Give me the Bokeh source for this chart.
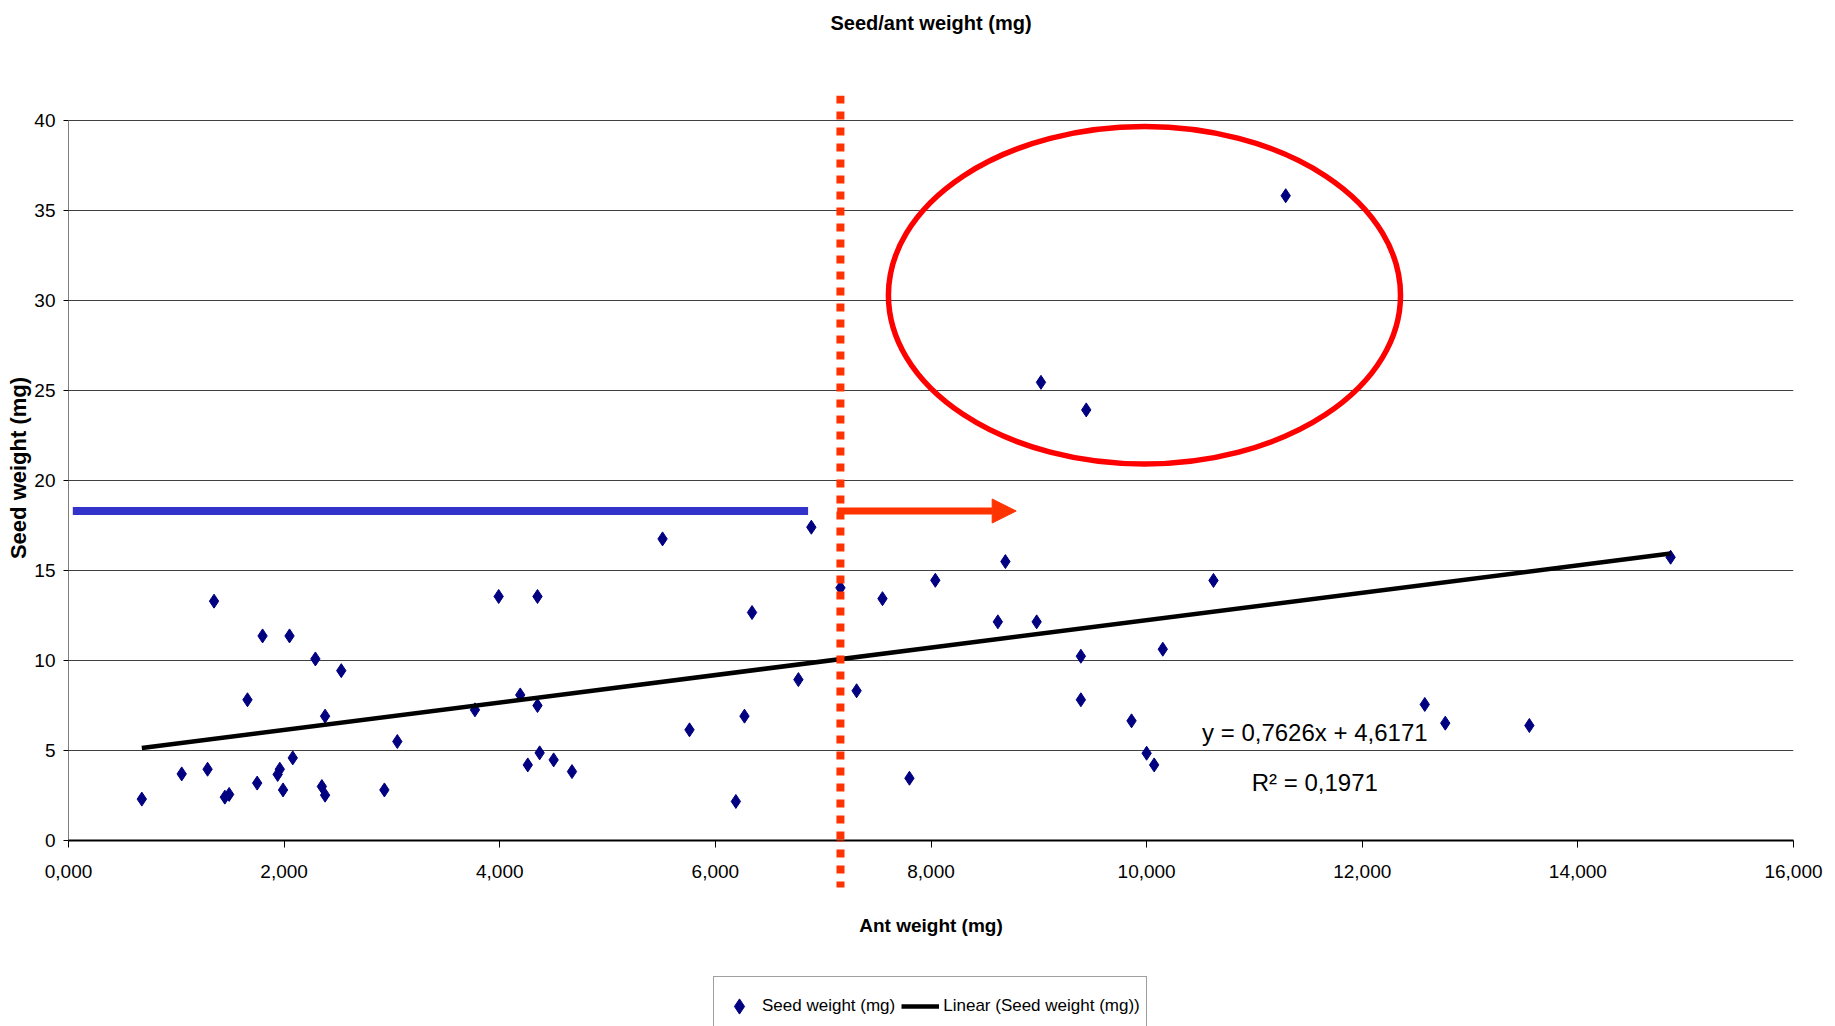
from bokeh.plotting import figure
from bokeh.layouts import column
from bokeh.models import (Range1d, FixedTicker, Legend, LegendItem, Arrow,
                          NormalHead, Span, LinearAxis)
from bokeh.core.properties import value
from bokeh.embed import file_html
from bokeh.resources import INLINE

# ---------------- data ----------------
ant_weight = [0.68, 1.05, 1.29, 1.35, 1.45, 1.49, 1.66, 1.75, 1.80, 1.94,
              1.96, 1.99, 2.05, 2.08, 2.29, 2.35, 2.38, 2.38, 2.53, 2.93,
              3.05, 3.77, 3.99, 4.19, 4.26, 4.35, 4.35, 4.37, 4.50, 4.67,
              5.51, 5.76, 6.19, 6.27, 6.34, 6.77, 6.89, 7.16, 7.31, 7.55,
              7.80, 8.04, 8.62, 8.69, 8.98, 9.02, 9.39, 9.39, 9.44, 9.86,
              10.00, 10.07, 10.15, 10.62, 11.29, 12.58, 12.77, 13.55, 14.86]
seed_weight = [2.30, 3.70, 3.96, 13.30, 2.41, 2.56, 7.82, 3.19, 11.37, 3.67,
               3.96, 2.81, 11.37, 4.59, 10.09, 3.00, 6.91, 2.52, 9.44, 2.81,
               5.50, 7.26, 13.56, 8.09, 4.20, 13.56, 7.50, 4.87, 4.48, 3.83,
               16.76, 6.15, 2.17, 6.91, 12.67, 8.94, 17.41, 14.04, 8.32, 13.44,
               3.46, 14.46, 12.15, 15.50, 12.15, 25.46, 10.24, 7.82, 23.93, 6.65,
               4.85, 4.20, 10.63, 14.45, 35.83, 7.56, 6.52, 6.39, 15.74]

x_ticks = [0, 2, 4, 6, 8, 10, 12, 14, 16]
x_tick_labels = ["0,000", "2,000", "4,000", "6,000", "8,000",
                 "10,000", "12,000", "14,000", "16,000"]
y_ticks = [0, 5, 10, 15, 20, 25, 30, 35, 40]

trend_slope = 0.7626
trend_intercept = 4.6171
eq_text = "y = 0,7626x + 4,6171"
r2_text = "R\u00b2 = 0,1971"

chart_title = "Seed/ant weight (mg)"
x_title = "Ant weight (mg)"
y_title = "Seed weight (mg)"
series_label = "Seed weight (mg)"
trend_label = "Linear (Seed weight (mg))"

# annotation placements (data units)
threshold_x = 7.16
bar_y = 18.31
blue_x = [0.04, 6.86]
arrow_x = [7.13, 8.79]
ellipse_center = (9.98, 30.3)
ellipse_size = (4.75, 18.75)
eq_pos = (11.56, 6.0)
r2_pos = (11.56, 3.2)
y_top = 41.4

FONT = "Liberation Sans"
MARKER_COLOR = "#000080"
NAN = float("nan")

# ---------------- main figure ----------------
p = figure(width=1835, height=966, output_backend="svg", toolbar_location=None,
           x_range=Range1d(0, 16), y_range=Range1d(0, y_top),
           min_border_left=68, min_border_right=42, min_border_top=95,
           min_border_bottom=126, outline_line_color=None,
           background_fill_color="white", border_fill_color="white")

xa = p.below[0]
ya = p.left[0]

xa.ticker = FixedTicker(ticks=x_ticks, minor_ticks=[threshold_x])
xa.major_label_overrides = {t: l for t, l in zip(x_ticks, x_tick_labels)}
xa.major_tick_out = 7
xa.major_tick_in = 0
xa.axis_line_width = 2
xa.axis_line_color = "black"
xa.major_tick_line_color = "black"
# the dotted threshold continues below the axis as a minor tick
xa.minor_tick_out = 47
xa.minor_tick_in = 0
xa.minor_tick_line_color = "#FF3300"
xa.minor_tick_line_width = 8
xa.minor_tick_line_dash = "8 8"
xa.minor_tick_line_dash_offset = 2
xa.major_label_text_font = FONT
xa.major_label_text_font_size = "19px"
xa.major_label_text_color = "black"
xa.major_label_standoff = -23
xa.axis_label = x_title
xa.axis_label_text_font = FONT
xa.axis_label_text_font_size = "19px"
xa.axis_label_text_font_style = "bold"
xa.axis_label_text_color = "black"
xa.axis_label_standoff = 34

ya.ticker = FixedTicker(ticks=y_ticks)
ya.major_tick_out = 5
ya.major_tick_in = 0
ya.minor_tick_out = 0
ya.minor_tick_in = 0
ya.axis_line_color = None
ya.major_tick_line_color = "black"
ya.major_label_text_font = FONT
ya.major_label_text_font_size = "19px"
ya.major_label_text_color = "black"
ya.major_label_standoff = 8
ya.axis_label = y_title
ya.axis_label_text_font = FONT
ya.axis_label_text_font_size = "22px"
ya.axis_label_text_font_style = "bold"
ya.axis_label_text_color = "black"
ya.axis_label_standoff = 0

# chart title, carried by a bare axis above the frame
top_axis = LinearAxis(ticker=FixedTicker(ticks=[]), axis_line_color=None,
                      major_tick_out=0, major_tick_in=0, minor_tick_out=0,
                      minor_tick_in=0, major_label_text_font_size="0px",
                      axis_label=chart_title,
                      axis_label_text_font=FONT, axis_label_text_font_size="20px",
                      axis_label_text_font_style="bold", axis_label_text_color="black",
                      axis_label_standoff=62)
p.add_layout(top_axis, "above")

p.xgrid.visible = False
p.ygrid.ticker = FixedTicker(ticks=y_ticks)
p.ygrid.grid_line_color = "#404040"
p.ygrid.grid_line_width = 1

# y axis line from first to last tick
p.segment(x0=[x_ticks[0]], y0=[y_ticks[0]], x1=[x_ticks[0]], y1=[y_ticks[-1]],
          line_color="black", line_width=1)

# data
p.scatter(ant_weight, seed_weight, marker="diamond", size=14,
          fill_color=MARKER_COLOR, line_color=MARKER_COLOR)

x_min, x_max = min(ant_weight), max(ant_weight)
p.line([x_min, x_max],
       [trend_slope * x_min + trend_intercept, trend_slope * x_max + trend_intercept],
       line_color="black", line_width=4.5)

# annotations
p.line(blue_x, [bar_y, bar_y], line_color="#3333CC", line_width=8, line_cap="butt")
p.add_layout(Arrow(end=NormalHead(size=24, fill_color="#FF3300", line_color="#FF3300"),
                   x_start=arrow_x[0], y_start=bar_y, x_end=arrow_x[1], y_end=bar_y,
                   line_color="#FF3300", line_width=7))
p.ellipse(x=[ellipse_center[0]], y=[ellipse_center[1]],
          width=[ellipse_size[0]], height=[ellipse_size[1]],
          fill_color=None, line_color="#FF0000", line_width=5.5)
p.add_layout(Span(location=threshold_x, dimension="height", line_color="#FF3300",
                  line_width=8, line_dash="8 8"))

p.text(x=[eq_pos[0]], y=[eq_pos[1]], text=[eq_text], text_align="center",
       text_baseline="alphabetic", text_font=value(FONT), text_font_size="24px",
       text_color="black")
p.text(x=[r2_pos[0]], y=[r2_pos[1]], text=[r2_text], text_align="center",
       text_baseline="alphabetic", text_font=value(FONT), text_font_size="24px",
       text_color="black")

# ---------------- legend strip ----------------
lg = figure(width=1835, height=60, output_backend="svg", toolbar_location=None,
            x_range=Range1d(0, 1), y_range=Range1d(0, 1), min_border=0,
            x_axis_location=None, y_axis_location=None, outline_line_color=None,
            background_fill_color="white", border_fill_color="white")
lg.xgrid.visible = False
lg.ygrid.visible = False
# legend proxies (a single empty NaN row each, nothing drawn in the strip)
pts_proxy = lg.scatter([NAN], [NAN], marker="diamond", size=14,
                       fill_color=MARKER_COLOR, line_color=MARKER_COLOR)
trend_proxy = lg.line([NAN, NAN], [NAN, NAN], line_color="black", line_width=4.5)

legend = Legend(items=[LegendItem(label=series_label, renderers=[pts_proxy]),
                       LegendItem(label=trend_label, renderers=[trend_proxy])],
                orientation="horizontal", location=(645, -10),
                label_text_font=FONT, label_text_font_size="17px",
                label_text_color="black", glyph_width=38, glyph_height=46,
                label_standoff=4, spacing=6, padding=6, margin=0,
                border_line_color="#404040", border_line_width=1.5,
                background_fill_alpha=1)
lg.add_layout(legend, "center")

layout = column(p, lg, spacing=0)
open("out.html", "w").write(file_html(layout, INLINE))
